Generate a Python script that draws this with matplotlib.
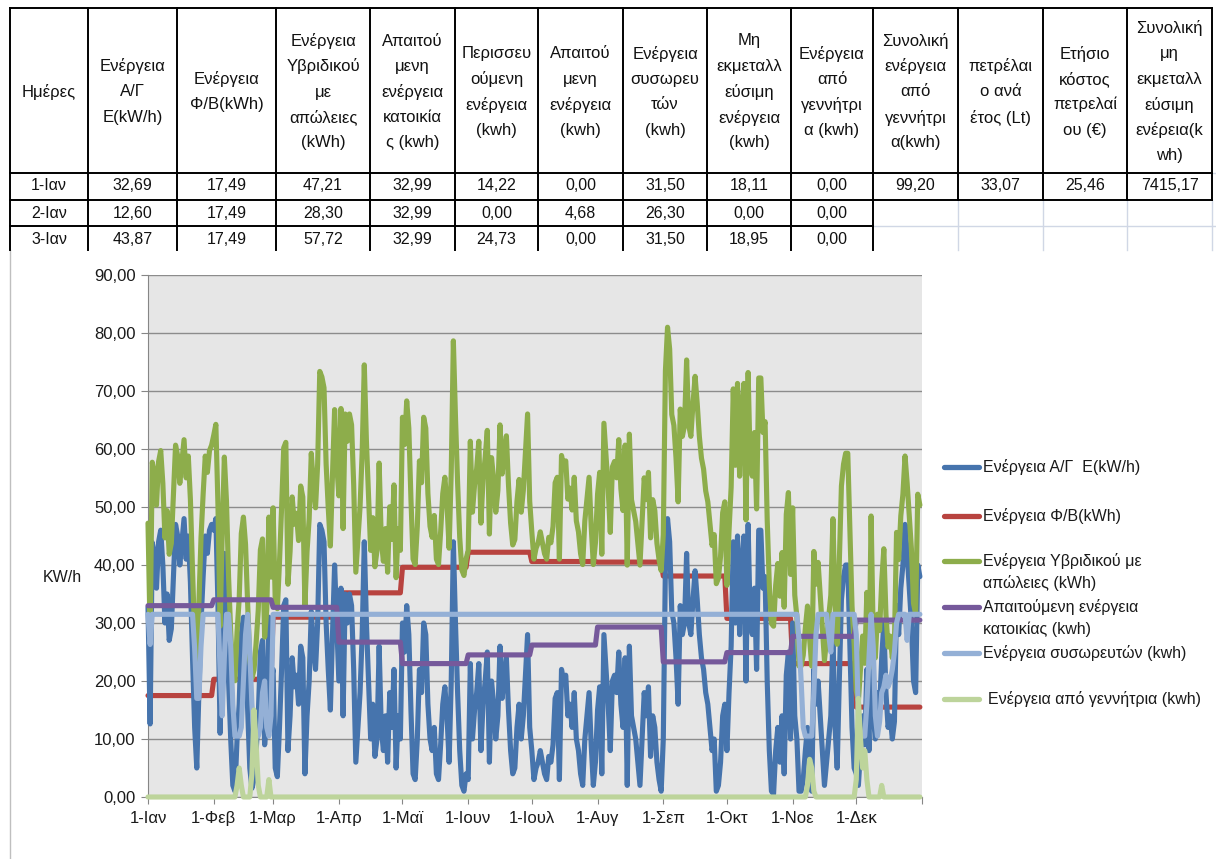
import numpy as np
import matplotlib
matplotlib.use("Agg")
import matplotlib.pyplot as plt

plt.rcParams['font.family'] = ['Liberation Sans', 'DejaVu Sans']

# ---------------- data ----------------
month_labels = ["1-Ιαν", "1-Φεβ", "1-Μαρ", "1-Απρ", "1-Μαϊ", "1-Ιουν",
                "1-Ιουλ", "1-Αυγ", "1-Σεπ", "1-Οκτ", "1-Νοε", "1-Δεκ"]
days_in_month = [31, 28, 31, 30, 31, 30, 31, 31, 30, 31, 30, 31]

# daily wind turbine energy (kWh)
wind_jan = [32.69, 12.60, 43.87, 42, 36, 44, 46, 40, 30, 35, 27, 29, 38, 47, 45, 40,
            44, 48, 41, 45, 37, 24, 12, 5, 18, 30, 38, 45, 42, 46, 47]
wind_feb = [46, 48, 33, 11, 28, 42, 34, 20, 10, 2, 1, 10, 16, 28, 31, 26, 15, 5,
            1.5, 3, 8, 14, 25, 27, 9, 14, 31, 20]
wind_mar = [22, 5, 3.5, 12, 22, 33, 34, 8, 14, 24, 19, 21, 16, 26, 24, 4, 14, 20,
            32, 26, 22, 30, 47, 46, 44, 30, 22, 15, 28, 40, 30]
wind_apr = [20, 36, 14, 35, 30, 35, 33, 22, 6, 12, 18, 28, 44, 30, 20, 10, 16, 7,
            10, 26, 12, 8, 14, 6, 18, 12, 22, 5, 14, 10]
wind_may = [30, 25, 33, 28, 15, 4, 3, 10, 22, 18, 30, 28, 16, 10, 8, 12, 4, 3, 9,
            16, 19, 14, 6, 20, 44, 30, 18, 8, 2, 1, 4]
wind_jun = [3, 23, 10, 15, 18, 23, 8, 16, 20, 25, 6, 20, 16, 10, 14, 26, 17, 21,
            24, 15, 8, 4, 5, 12, 16, 10, 14, 21, 28, 12]
wind_jul = [8, 3, 5, 6, 8, 6, 4, 3, 7, 6, 9, 17, 18, 3, 22, 20, 21, 14, 16, 12, 18,
            10, 8, 4, 2, 10, 14, 18, 9, 2, 6]
wind_aug = [15, 19, 4, 28, 22, 16, 8, 20, 21, 18, 25, 16, 12, 24, 2, 26, 14, 12, 10,
            6, 2, 10, 18, 14, 19, 7, 14, 12, 6, 3, 1]
wind_sep = [10, 40, 48, 44, 32, 30, 24, 16, 33, 28, 30, 42, 30, 28, 34, 39, 34, 28,
            24, 22, 18, 16, 12, 8, 10, 1, 2, 6, 14, 16]
wind_oct = [8, 18, 26, 44, 30, 45, 28, 40, 45, 20, 47, 30, 28, 36, 22, 46, 46, 36,
            38, 20, 8, 1, 0.5, 8, 12, 6, 14, 4, 21, 25, 10]
wind_nov = [30, 14, 10, 1, 1, 3, 8, 12, 6, 1, 22, 16, 20, 14, 8, 2, 6, 10, 14, 28,
            12, 5, 20, 34, 38, 40, 40, 26, 12, 5]
wind_dec = [4, 2, 8, 14, 9, 22, 8, 36, 14, 10, 18, 15, 24, 30, 18, 12, 14, 10, 13,
            33, 28, 36, 40, 47, 42, 36, 30, 20, 18, 40, 38]

# monthly daily PV energy and household demand (kWh)
pv_monthly = [17.49, 20.3, 31.0, 35.2, 39.6, 42.2, 40.6, 40.5, 38.1, 30.8, 23.0, 15.5]
demand_monthly = [32.99, 34.0, 32.7, 26.7, 23.0, 24.5, 26.2, 29.3, 23.3, 24.9, 27.7, 30.5]

# hybrid output after losses
LOSS_FACTOR = 0.9407
hybrid_first_days = [47.21, 28.30, 57.72]

# battery state (kWh)
BATTERY_FULL = 31.5
battery_jan = [31.5, 26.3, 31.5] + [31.5] * 19 + [25.6, 17, 17, 26] + [31.5] * 5
battery_feb = [31.5, 31.5, 31.5, 22, 14, 24, 31.5, 31.5, 26, 16, 10.5, 10.5, 10.5,
               12, 20, 28, 31.5, 25, 16, 10.5, 10.5, 10.5, 12, 18, 20, 12, 10.5, 14]
battery_nov = [31.5, 31.5, 31.5, 27, 20, 12, 10.5, 10.5, 10.5, 10.5, 18, 28,
               31.5, 31.5, 31.5, 31.5, 31.5, 28, 25] + [31.5] * 11
battery_dec = [28, 14, 10.5, 10.5, 10.5, 16, 24, 31.5, 26, 14, 10.5, 13, 18, 19, 21,
               19, 20, 22, 25, 30, 31.5, 31.5, 31.5, 31.5, 27] + [31.5] * 6

# diesel generator energy (kWh)
generator_feb = [0] * 11 + [2, 5, 2] + [0] * 4 + [4, 15, 9, 2] + [0] * 4 + [3, 0]
generator_nov = [0] * 7 + [2, 6.5, 5, 1] + [0] * 19
generator_dec = [3, 17, 10, 5, 8, 3, 0, 0, 0, 0, 0, 0, 2] + [0] * 18

# spreadsheet extra columns
surplus_first_days = [14.22, 0.00, 24.73]
deficit_first_days = [0.00, 4.68, 0.00]
unused_first_days = [18.11, 0.00, 18.95]
total_generator = 99.20
fuel_litres = 33.07
fuel_cost = 25.46
total_unused = 7415.17
day_labels = ["1-Ιαν", "2-Ιαν", "3-Ιαν"]

headers = ["Ημέρες", "Ενέργεια\nΑ/Γ\nE(kW/h)", "Ενέργεια\nΦ/Β(kWh)",
           "Ενέργεια\nΥβριδικού\nμε\nαπώλειες\n(kWh)",
           "Απαιτού\nμενη\nενέργεια\nκατοικία\nς (kwh)",
           "Περισσευ\nούμενη\nενέργεια\n(kwh)",
           "Απαιτού\nμενη\nενέργεια\n(kwh)",
           "Ενέργεια\nσυσωρευ\nτών\n(kwh)",
           "Μη\nεκμεταλλ\nεύσιμη\nενέργεια\n(kwh)",
           "Ενέργεια\nαπό\nγεννήτρι\nα (kwh)",
           "Συνολική\nενέργεια\nαπό\nγεννήτρι\nα(kwh)",
           "πετρέλαι\nο ανά\nέτος (Lt)",
           "Ετήσιο\nκόστος\nπετρελαί\nου (€)",
           "Συνολική\nμη\nεκμεταλλ\nεύσιμη\nενέρεια(k\nwh)"]

series_names = ["Ενέργεια Α/Γ  E(kW/h)", "Ενέργεια Φ/Β(kWh)",
                "Ενέργεια Υβριδικού με\nαπώλειες (kWh)",
                "Απαιτούμενη ενέργεια\nκατοικίας (kwh)",
                "Ενέργεια συσωρευτών (kwh)", "Ενέργεια από γεννήτρια (kwh)"]
series_colors = ["#4674AD", "#B8433F", "#8DAD4B", "#76599B", "#94B0D6", "#BDD49B"]

# ---------------- derived daily series ----------------
wind = np.array(wind_jan + wind_feb + wind_mar + wind_apr + wind_may + wind_jun +
                wind_jul + wind_aug + wind_sep + wind_oct + wind_nov + wind_dec, float)
pv = np.repeat(pv_monthly, days_in_month)
demand = np.repeat(demand_monthly, days_in_month)
hybrid = LOSS_FACTOR * (wind + pv)
hybrid[:3] = hybrid_first_days
n_mid = sum(days_in_month[2:10])
battery = np.concatenate([battery_jan, battery_feb, np.full(n_mid, BATTERY_FULL),
                          battery_nov, battery_dec])
generator = np.concatenate([np.zeros(31), generator_feb, np.zeros(n_mid),
                            generator_nov, generator_dec])
days = np.arange(len(wind))
month_starts = np.concatenate([[0], np.cumsum(days_in_month)])


def fmt(v):
    return f"{v:.2f}".replace(".", ",")


# ---------------- figure ----------------
W, H = 1216, 859
fig = plt.figure(figsize=(W / 100, H / 100), dpi=100, facecolor="white")
ov = fig.add_axes([0, 0, 1, 1])
ov.set_xlim(0, W)
ov.set_ylim(H, 0)
ov.axis("off")

# spreadsheet table
col_x = [10, 88, 177, 276, 370, 455, 538, 623, 707, 791, 873, 958, 1043, 1127, 1212]
row_y = [8, 173, 200, 226, 250]
hdr_fs = 12
num_fs = 11.5
line_gap = 25.5
hdr_mid = 92
for i, h in enumerate(headers):
    lines = h.split("\n")
    cx = (col_x[i] + col_x[i + 1]) / 2
    for k, ln in enumerate(lines):
        y = hdr_mid + (k - (len(lines) - 1) / 2) * line_gap
        ov.text(cx, y, ln, ha="center", va="center", fontsize=hdr_fs, color="#111111")

rows = []
for d in range(3):
    rows.append([day_labels[d], fmt(wind[d]), fmt(pv[d]), fmt(hybrid[d]), fmt(demand[d]),
                 fmt(surplus_first_days[d]), fmt(deficit_first_days[d]),
                 fmt(battery[d]), fmt(unused_first_days[d]), fmt(generator[d])])
rows[0] += [fmt(total_generator), fmt(fuel_litres), fmt(fuel_cost), fmt(total_unused)]
row_centers = [186, 213, 240]
for r, row in enumerate(rows):
    for c, txt in enumerate(row):
        cx = (col_x[c] + col_x[c + 1]) / 2
        ov.text(cx, row_centers[r], txt, ha="center", va="center", fontsize=num_fs,
                color="#111111")

# light sheet gridlines on empty cells
grid_c = "#D0D7E5"
for x in col_x[11:]:
    ov.plot([x, x], [row_y[2], row_y[4]], color=grid_c, lw=1, zorder=1)
ov.plot([col_x[10], W], [row_y[3], row_y[3]], color=grid_c, lw=1, zorder=1)
ov.plot([col_x[14], W], [row_y[1], row_y[1]], color=grid_c, lw=1, zorder=1)

# cell borders
bk = dict(color="black", lw=1.4, zorder=3, solid_capstyle="projecting")
ov.plot([col_x[0], col_x[-1]], [row_y[0], row_y[0]], **bk)
ov.plot([col_x[0], col_x[-1]], [row_y[1], row_y[1]], **bk)
ov.plot([col_x[0], col_x[-1]], [row_y[2], row_y[2]], **bk)
ov.plot([col_x[0], col_x[10]], [row_y[3], row_y[3]], **bk)
for i, x in enumerate(col_x):
    bottom = row_y[4] if i <= 10 else row_y[2]
    ov.plot([x, x], [row_y[0], bottom], **bk)

# chart object frame edge
ov.plot([10, 10], [250, H], color="#BFBFBF", lw=1)

# chart
ax = fig.add_axes([148 / W, (H - 797) / H, 774 / W, 522 / H])
ax.set_facecolor("#E6E6E6")
ax.set_xlim(0, 365)
ax.set_ylim(0, 90)
ax.set_yticks(np.arange(0, 91, 10))
ax.set_yticklabels([fmt(v) for v in np.arange(0, 91, 10)], fontsize=12)
ax.set_xticks(month_starts)
ax.set_xticklabels(month_labels + [""], fontsize=12)
ax.grid(axis="y", color="#8C8C8C", lw=1)
ax.set_axisbelow(True)
for s in ["top", "right"]:
    ax.spines[s].set_visible(False)
for s in ["left", "bottom"]:
    ax.spines[s].set_color("#868686")
ax.tick_params(axis="both", colors="#868686", labelcolor="#1A1A1A", length=5,
               direction="out")
ax.tick_params(axis="x", pad=5)
ax.tick_params(axis="y", pad=4)

data = [wind, pv, hybrid, demand, battery, generator]
zorders = [3, 2, 4, 5, 6, 7]
for vals, col, z in zip(data, series_colors, zorders):
    ax.plot(days, vals, color=col, lw=3.7, zorder=z, clip_on=False,
            solid_joinstyle="round", solid_capstyle="round")

fig.text(62 / W, (H - 577) / H, "KW/h", ha="center", va="center", fontsize=11.5,
         color="#1A1A1A")

# legend
leg_y = [467, 516, 561, 607, 653, 699]
for name, col, y in zip(series_names, series_colors, leg_y):
    ov.plot([944, 979], [y, y], color=col, lw=3.8, solid_capstyle="round")
    tx = 988 if name.startswith("Ενέργεια από") else 983
    for k, ln in enumerate(name.split("\n")):
        ov.text(tx, y + k * 22, ln, ha="left", va="center", fontsize=11.5,
                color="#1A1A1A")

fig.savefig("out.png", dpi=100, facecolor="white")
